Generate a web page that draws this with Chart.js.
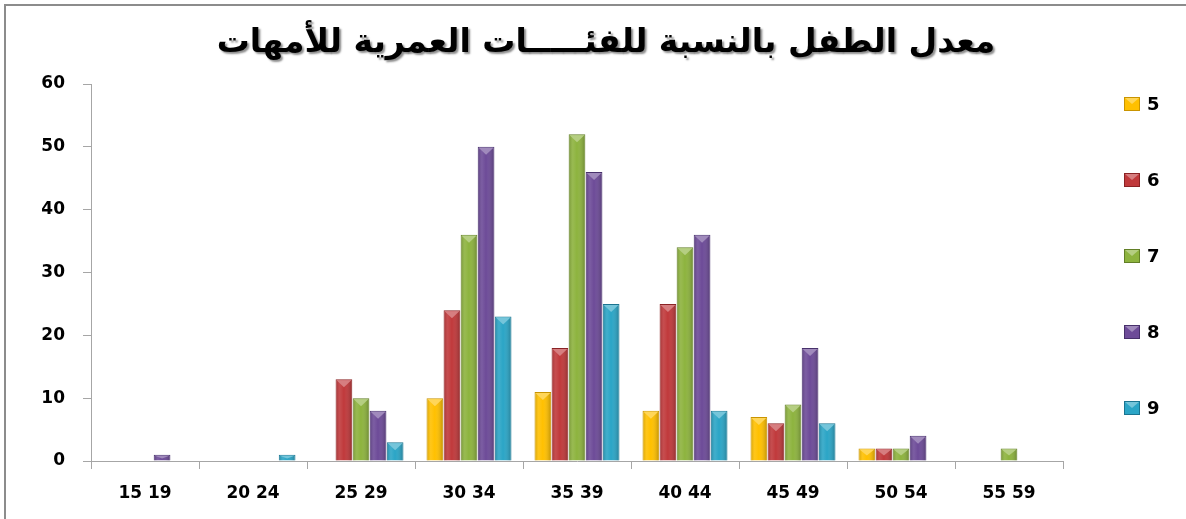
<!DOCTYPE html>
<html>
<head>
<meta charset="utf-8">
<script src="https://cdn.jsdelivr.net/npm/chart.js@4"></script>
<style>
html,body{margin:0;padding:0;background:#fff;}
#wrap{position:absolute;left:0;top:0;width:1186px;height:519px;}
#frame{position:absolute;left:4px;top:4px;width:1182px;height:515px;border-left:2px solid #8c8c8c;border-top:2px solid #8c8c8c;box-sizing:border-box;pointer-events:none;}
canvas{position:absolute;left:0;top:0;}
</style>
</head>
<body>
<div id="wrap">
<canvas id="c" width="1186" height="519"></canvas>
<div id="frame"></div>
</div>
<script>
const titleText = 'معدل الطفل بالنسبة للفئـــــات العمرية للأمهات';
const categories = ['15 19','20 24','25 29','30 34','35 39','40 44','45 49','50 54','55 59'];
const seriesNames = ['5','6','7','8','9'];
const series5 = [null, null, null, 10, 11, 8, 7, 2, null];
const series6 = [null, null, 13, 24, 18, 25, 6, 2, null];
const series7 = [null, null, 10, 36, 52, 34, 9, 2, 2];
const series8 = [1, null, 8, 50, 46, 36, 18, 4, null];
const series9 = [null, 1, 3, 23, 25, 8, 6, null, null];
const yTicks = [0, 10, 20, 30, 40, 50, 60];

const colors = ['#FFC000', '#C0393B', '#8DB33E', '#6D4B98', '#2BA5C6'];
const borders = ['#C99400', '#8A2224', '#627F27', '#47306B', '#1A7490'];
const values = [series5, series6, series7, series8, series9];

function lighten(hex, amt){
  const n = parseInt(hex.slice(1),16);
  let r=(n>>16)&255,g=(n>>8)&255,b=n&255;
  r=Math.round(r+(255-r)*amt);g=Math.round(g+(255-g)*amt);b=Math.round(b+(255-b)*amt);
  return 'rgb('+r+','+g+','+b+')';
}

const titlePlugin = {
  id: 'customTitle',
  afterDraw(chart){
    const ctx = chart.ctx;
    ctx.save();
    ctx.font = 'bold 33px "DejaVu Sans", sans-serif';
    ctx.textAlign = 'center';
    ctx.textBaseline = 'middle';
    ctx.direction = 'rtl';
    ctx.shadowColor = 'rgba(0,0,0,0.45)';
    ctx.shadowOffsetX = 2;
    ctx.shadowOffsetY = 2;
    ctx.shadowBlur = 2;
    ctx.fillStyle = '#000';
    ctx.fillText(titleText, 606, 43);
    ctx.restore();
  }
};

const bevelPlugin = {
  id: 'bevel',
  afterDatasetsDraw(chart){
    const ctx = chart.ctx;
    chart.data.datasets.forEach((ds, di) => {
      const meta = chart.getDatasetMeta(di);
      meta.data.forEach((el, i) => {
        if (ds.data[i] == null) return;
        const p = el.getProps(['x','y','base','width'], true);
        const l = p.x - p.width/2, r = p.x + p.width/2;
        const h = p.base - p.y;
        const g = ctx.createLinearGradient(l, 0, r, 0);
        g.addColorStop(0, 'rgba(0,0,0,0.18)');
        g.addColorStop(0.25, 'rgba(255,255,255,0.10)');
        g.addColorStop(0.5, 'rgba(255,255,255,0.0)');
        g.addColorStop(1, 'rgba(0,0,0,0.25)');
        ctx.save();
        ctx.fillStyle = g;
        ctx.fillRect(l+1, p.y+1, p.width-2, h-1);
        const th = Math.min(7, h/2);
        ctx.fillStyle = lighten(colors[di], 0.35);
        ctx.beginPath();
        ctx.moveTo(l+1, p.y+1);
        ctx.lineTo(r-1, p.y+1);
        ctx.lineTo(p.x, p.y+1+th);
        ctx.closePath();
        ctx.fill();
        ctx.restore();
      });
    });
  }
};

const legendPlugin = {
  id: 'customLegend',
  afterDraw(chart){
    const ctx = chart.ctx;
    const ys = [104, 180, 256, 332, 408];
    ctx.save();
    chart.data.datasets.forEach((ds, i) => {
      const y = ys[i];
      ctx.fillStyle = ds.backgroundColor;
      ctx.fillRect(1124, y-7, 16, 14);
      ctx.strokeStyle = ds.borderColor;
      ctx.lineWidth = 1;
      ctx.strokeRect(1124.5, y-6.5, 15, 13);
      ctx.fillStyle = lighten(colors[i], 0.35);
      ctx.beginPath();
      ctx.moveTo(1125, y-6);
      ctx.lineTo(1139, y-6);
      ctx.lineTo(1132, y);
      ctx.closePath();
      ctx.fill();
      ctx.fillStyle = '#000';
      ctx.font = 'bold 18px "DejaVu Sans", sans-serif';
      ctx.textAlign = 'left';
      ctx.textBaseline = 'middle';
      ctx.fillText(ds.label, 1147, y+1);
    });
    ctx.restore();
  }
};

const datasets = seriesNames.map((name, i) => ({
  label: name,
  data: values[i],
  backgroundColor: colors[i],
  borderColor: borders[i],
  borderWidth: 1,
  categoryPercentage: 0.79,
  barPercentage: 0.98
}));

new Chart(document.getElementById('c'), {
  type: 'bar',
  data: { labels: categories, datasets },
  plugins: [bevelPlugin, titlePlugin, legendPlugin],
  options: {
    responsive: false,
    animation: false,
    devicePixelRatio: 1,
    layout: { padding: { top: 84, right: 123, left: 0, bottom: 0 } },
    plugins: { legend: { display: false }, title: { display: false }, tooltip: { enabled: false } },
    scales: {
      x: {
        offset: true,
        grid: { offset: true, drawOnChartArea: false, color: '#a6a6a6', tickLength: 8 },
        border: { color: '#a6a6a6', width: 1 },
        ticks: { color: '#000', font: { family: '"DejaVu Sans", sans-serif', size: 17, weight: 'bold' }, padding: 14, maxRotation: 0 },
        afterFit(s){ s.height = 58; }
      },
      y: {
        min: 0, max: 60,
        afterBuildTicks(s){ s.ticks = yTicks.map(v => ({ value: v })); },
        grid: { drawOnChartArea: false, color: '#a6a6a6', tickLength: 8 },
        border: { color: '#a6a6a6', width: 1 },
        ticks: { color: '#000', font: { family: '"DejaVu Sans", sans-serif', size: 17, weight: 'bold' }, padding: 18 },
        afterFit(s){ s.width = 91; }
      }
    }
  }
});
</script>
</body>
</html>
